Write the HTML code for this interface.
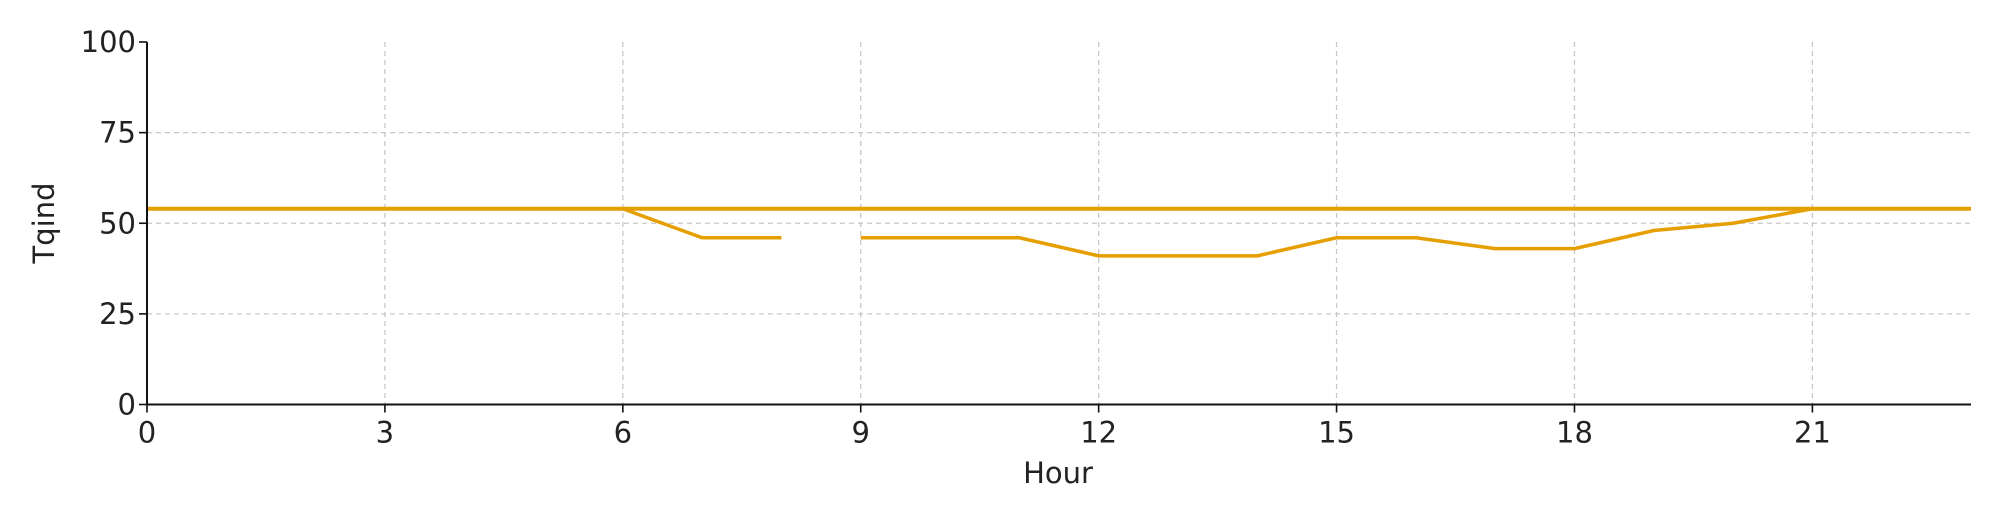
<!DOCTYPE html>
<html><head><meta charset="utf-8"><style>
html,body{margin:0;padding:0;background:#fff;}
svg{display:block;font-family:"DejaVu Sans","Liberation Sans",sans-serif;}
</style></head><body>
<svg id="chart" width="2000" height="520" viewBox="0 0 2000 520" xmlns="http://www.w3.org/2000/svg">
<g id="grid"></g>
<g id="series"></g>
<g id="axes"></g>
<text x="1058" y="483" font-size="29" text-anchor="middle" fill="#222">Hour</text>
<text x="0" y="0" font-size="29" text-anchor="middle" fill="#222" transform="translate(54,223) rotate(-90)">Tqind</text>
</svg>
<script>
const xTicks = [0,3,6,9,12,15,18,21];
const yTicks = [0,25,50,75,100];
const flatHours = [0,23];
const flatValues = [54,54];
const hours = [6,7,8,8.5,9,10,11,12,13,14,15,16,17,18,19,20,21,22,23];
const values = [54,46,46,null,46,46,46,41,41,41,46,46,43,43,48,50,54,54,54];

const NS="http://www.w3.org/2000/svg";
const X0=147,X1=1971,Y0=404.5,Y1=42;
const xs=v=>X0+(v-0)/(23-0)*(X1-X0);
const ys=v=>Y0-(v-0)/(100-0)*(Y0-Y1);
function mk(tag,attrs,parent){const e=document.createElementNS(NS,tag);for(const k in attrs)e.setAttribute(k,attrs[k]);parent.appendChild(e);return e;}
const grid=document.getElementById('grid'),axes=document.getElementById('axes'),series=document.getElementById('series');
xTicks.forEach(t=>{
  const g=mk('line',{x1:xs(t),x2:xs(t),y1:Y1,y2:Y0,stroke:'#c8c8c8','stroke-width':1.3,'stroke-dasharray':'5,4'},grid);
  
  
  const tk=mk('line',{x1:xs(t),x2:xs(t),y1:Y0,y2:Y0+8,stroke:'#111','stroke-width':1.6},axes);
  
  
  const lb=mk('text',{x:xs(t),y:Y0+38,'font-size':29,'text-anchor':'middle',fill:'#222'},axes);
  lb.textContent=t;
  
  
});
yTicks.forEach(t=>{
  if(t>0&&t<100){const g=mk('line',{x1:X0,x2:X1,y1:ys(t),y2:ys(t),stroke:'#c8c8c8','stroke-width':1.3,'stroke-dasharray':'5,4'},grid);
  
  }
  const tk=mk('line',{x1:X0-8,x2:X0,y1:ys(t),y2:ys(t),stroke:'#111','stroke-width':1.6},axes);
  
  
  const lb=mk('text',{x:X0-11,y:ys(t)+10,'font-size':29,'text-anchor':'end',fill:'#222'},axes);
  lb.textContent=t;
  
  
});
const ax=mk('path',{d:`M${X0},${Y1} V${Y0} H${X1}`,fill:'none',stroke:'#111','stroke-width':2},axes);


function pathFrom(hs,vs){let d='',pen=false;hs.forEach((h,i)=>{const v=vs[i];if(v===null){pen=false;return;}d+=(pen?'L':'M')+xs(h)+','+ys(v)+' ';pen=true;});return d;}
const f=mk('path',{d:pathFrom(flatHours,flatValues),fill:'none',stroke:'#E69F00','stroke-width':4},series);


const s=mk('path',{d:pathFrom(hours,values),fill:'none',stroke:'#E69F00','stroke-width':3.5,'stroke-linejoin':'round'},series);


</script>
</body></html>
